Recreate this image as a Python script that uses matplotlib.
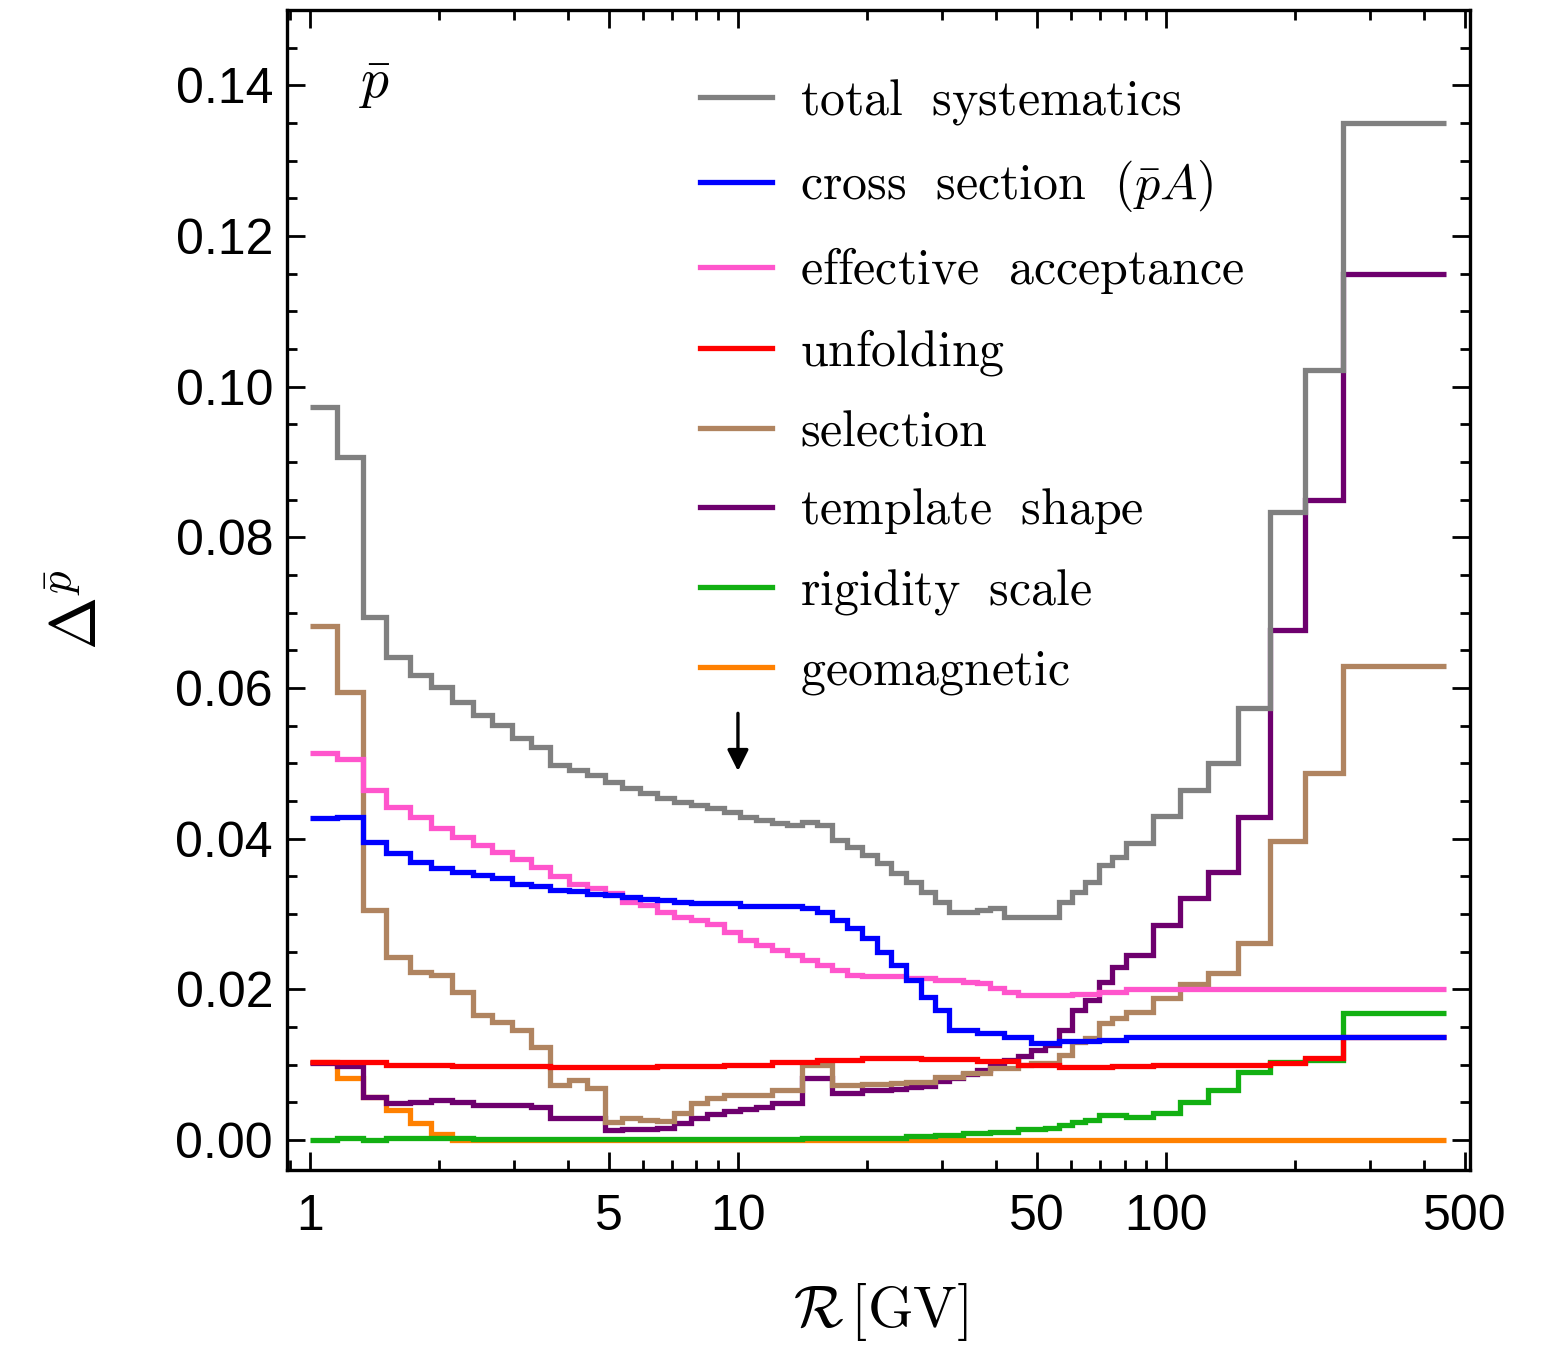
import numpy as np
import matplotlib
matplotlib.use("Agg")
import matplotlib.pyplot as plt
from matplotlib.lines import Line2D
from matplotlib.ticker import FixedLocator, NullFormatter, MultipleLocator, FormatStrFormatter

plt.rcParams['mathtext.fontset'] = 'cm'
plt.rcParams['font.family'] = ['Liberation Sans', 'DejaVu Sans']

# rigidity bin edges [GV]
edges = [1.00, 1.16, 1.33, 1.51, 1.71, 1.92, 2.15, 2.40, 2.67, 2.97, 3.29, 3.64,
         4.02, 4.43, 4.88, 5.37, 5.90, 6.47, 7.09, 7.76, 8.48, 9.26, 10.1, 11.0,
         12.0, 13.0, 14.1, 15.3, 16.6, 18.0, 19.5, 21.1, 22.8, 24.7, 26.7, 28.8,
         31.1, 33.5, 36.1, 38.9, 41.9, 45.1, 48.5, 52.2, 56.1, 60.3, 64.8, 69.7,
         74.9, 80.5, 93.0, 108, 125, 147, 175, 211, 259, 450]

total = [0.0973, 0.0906, 0.0694, 0.0641, 0.0617, 0.0601, 0.0581, 0.0564, 0.0551, 0.0533,
         0.0522, 0.0498, 0.0491, 0.0484, 0.0475, 0.0467, 0.0460, 0.0454, 0.0449, 0.0444,
         0.0440, 0.0435, 0.0429, 0.0425, 0.0421, 0.0418, 0.0422, 0.0418, 0.0398, 0.0389,
         0.0378, 0.0367, 0.0354, 0.0342, 0.0329, 0.0316, 0.0303, 0.0303, 0.0305, 0.0308,
         0.0296, 0.0296, 0.0296, 0.0296, 0.0316, 0.0329, 0.0342, 0.0365, 0.0376, 0.0394,
         0.0430, 0.0464, 0.0500, 0.0573, 0.0833, 0.1022, 0.1350]

cross_section = [0.0427, 0.0429, 0.0395, 0.0381, 0.0369, 0.0361, 0.0355, 0.0352, 0.0348, 0.0340,
                 0.0337, 0.0332, 0.0330, 0.0326, 0.0325, 0.0322, 0.0320, 0.0318, 0.0316, 0.0315,
                 0.0315, 0.0315, 0.0311, 0.0311, 0.0310, 0.0310, 0.0308, 0.0303, 0.0292, 0.0281,
                 0.0268, 0.0249, 0.0232, 0.0212, 0.0190, 0.0172, 0.0146, 0.0146, 0.0142, 0.0142,
                 0.0137, 0.0137, 0.0128, 0.0128, 0.0131, 0.0131, 0.0131, 0.0132, 0.0133, 0.0136,
                 0.0136, 0.0136, 0.0136, 0.0136, 0.0136, 0.0136, 0.0136]

acceptance = [0.0514, 0.0506, 0.0464, 0.0442, 0.0429, 0.0414, 0.0402, 0.0391, 0.0382, 0.0373,
              0.0362, 0.0350, 0.0340, 0.0334, 0.0328, 0.0316, 0.0312, 0.0303, 0.0296, 0.0292,
              0.0286, 0.0276, 0.0265, 0.0259, 0.0252, 0.0245, 0.0239, 0.0232, 0.0226, 0.0219,
              0.0218, 0.0218, 0.0218, 0.0215, 0.0215, 0.0212, 0.0212, 0.0210, 0.0208, 0.0202,
              0.0197, 0.0192, 0.0192, 0.0192, 0.0193, 0.0194, 0.0194, 0.0196, 0.0197, 0.0200,
              0.0200, 0.0200, 0.0200, 0.0200, 0.0200, 0.0200, 0.0200]

unfolding = [0.0103, 0.0103, 0.0103, 0.0100, 0.0100, 0.0100, 0.0098, 0.0098, 0.0098, 0.0098,
             0.0098, 0.0097, 0.0097, 0.0097, 0.0097, 0.0097, 0.0097, 0.0098, 0.0098, 0.0098,
             0.0098, 0.0100, 0.0100, 0.0100, 0.0103, 0.0103, 0.0103, 0.0106, 0.0106, 0.0106,
             0.0109, 0.0109, 0.0109, 0.0109, 0.0108, 0.0108, 0.0108, 0.0108, 0.0105, 0.0105,
             0.0105, 0.0100, 0.0100, 0.0100, 0.0097, 0.0097, 0.0097, 0.0097, 0.0098, 0.0098,
             0.0100, 0.0100, 0.0100, 0.0100, 0.0102, 0.0109, 0.0136]

selection = [0.0682, 0.0594, 0.0305, 0.0243, 0.0223, 0.0219, 0.0197, 0.0166, 0.0157, 0.0146,
             0.0123, 0.0073, 0.0080, 0.0069, 0.0024, 0.0029, 0.0026, 0.0025, 0.0036, 0.0049,
             0.0055, 0.0060, 0.0060, 0.0060, 0.0066, 0.0066, 0.0100, 0.0100, 0.0073, 0.0073,
             0.0074, 0.0074, 0.0075, 0.0077, 0.0077, 0.0084, 0.0084, 0.0089, 0.0089, 0.0096,
             0.0096, 0.0100, 0.0102, 0.0102, 0.0113, 0.0130, 0.0135, 0.0155, 0.0162, 0.0170,
             0.0188, 0.0207, 0.0222, 0.0261, 0.0397, 0.0487, 0.0629]

template = [0.0102, 0.0098, 0.0057, 0.0049, 0.0050, 0.0053, 0.0050, 0.0046, 0.0047, 0.0047,
            0.0044, 0.0029, 0.0029, 0.0029, 0.0013, 0.0015, 0.0015, 0.0016, 0.0022, 0.0029,
            0.0034, 0.0038, 0.0041, 0.0044, 0.0049, 0.0049, 0.0082, 0.0082, 0.0062, 0.0062,
            0.0066, 0.0066, 0.0068, 0.0070, 0.0072, 0.0078, 0.0082, 0.0088, 0.0093, 0.0100,
            0.0106, 0.0112, 0.0119, 0.0126, 0.0146, 0.0172, 0.0186, 0.0210, 0.0230, 0.0245,
            0.0285, 0.0321, 0.0356, 0.0429, 0.0677, 0.0849, 0.1150]

rigidity = [0.0000, 0.0003, 0.0000, 0.0003, 0.0003, 0.0003, 0.0002, 0.0001, 0.0001, 0.0001,
            0.0001, 0.0001, 0.0001, 0.0001, 0.0001, 0.0001, 0.0001, 0.0001, 0.0001, 0.0001,
            0.0001, 0.0001, 0.0001, 0.0001, 0.0001, 0.0001, 0.0002, 0.0002, 0.0002, 0.0002,
            0.0003, 0.0003, 0.0003, 0.0005, 0.0005, 0.0007, 0.0007, 0.0009, 0.0009, 0.0011,
            0.0011, 0.0014, 0.0014, 0.0016, 0.0020, 0.0024, 0.0027, 0.0033, 0.0033, 0.0030,
            0.0036, 0.0050, 0.0066, 0.0090, 0.0104, 0.0106, 0.0169]

geomagnetic = [0.0103, 0.0082, 0.0057, 0.0040, 0.0022, 0.0008, 0.0, 0.0, 0.0, 0.0,
               0.0, 0.0, 0.0, 0.0, 0.0, 0.0, 0.0, 0.0, 0.0, 0.0,
               0.0, 0.0, 0.0, 0.0, 0.0, 0.0, 0.0, 0.0, 0.0, 0.0,
               0.0, 0.0, 0.0, 0.0, 0.0, 0.0, 0.0, 0.0, 0.0, 0.0,
               0.0, 0.0, 0.0, 0.0, 0.0, 0.0, 0.0, 0.0, 0.0, 0.0,
               0.0, 0.0, 0.0, 0.0, 0.0, 0.0, 0.0]

c_total = '#808080'
c_cross = '#0000ff'
c_acc = '#ff55cc'
c_unf = '#ff0000'
c_sel = '#b08460'
c_tmpl = '#6e006e'
c_rig = '#12b012'
c_geo = '#ff8000'

fig = plt.figure(figsize=(15.68, 13.5), dpi=100)
ax = fig.add_axes([0.183, 0.1333, 0.7545, 0.8593])

lw = 3.8
# drawing order (bottom to top)
series = [
    (geomagnetic, c_geo),
    (rigidity, c_rig),
    (template, c_tmpl),
    (selection, c_sel),
    (unfolding, c_unf),
    (acceptance, c_acc),
    (cross_section, c_cross),
    (total, c_total),
]
for vals, col in series:
    ax.step(edges, list(vals) + [vals[-1]], where='post', color=col, lw=lw,
            solid_joinstyle='miter', solid_capstyle='butt')

ax.set_xscale('log')
ax.set_xlim(0.884, 513)
ax.set_ylim(-0.004, 0.15)

ax.xaxis.set_major_locator(FixedLocator([1, 5, 10, 50, 100, 500]))
ax.set_xticklabels(['1', '5', '10', '50', '100', '500'])
minor_x = [m * 10 ** d for d in range(-1, 3) for m in range(1, 10)]
ax.xaxis.set_minor_locator(FixedLocator(minor_x))
ax.xaxis.set_minor_formatter(NullFormatter())
ax.yaxis.set_major_locator(MultipleLocator(0.02))
ax.yaxis.set_minor_locator(MultipleLocator(0.005))
ax.yaxis.set_major_formatter(FormatStrFormatter('%.2f'))

ax.tick_params(which='both', direction='in', top=True, right=True, width=2)
ax.tick_params(which='major', length=13, labelsize=36)
ax.tick_params(which='minor', length=7)
ax.tick_params(axis='x', which='major', pad=17)
ax.tick_params(axis='y', which='major', pad=10)
for s in ax.spines.values():
    s.set_linewidth(2.4)

fig.text(80 / 1568, 1 - 610 / 1350, r'$\Delta^{\bar{p}}$', rotation=90,
         ha='center', va='center', fontsize=46)
fig.text(880 / 1568, 1 - 1312 / 1350, r'$\mathcal{R}\,[\mathrm{GV}]$',
         ha='center', va='center', fontsize=42)
ax.text(0.074, 0.935, r'$\bar{p}$', transform=ax.transAxes, ha='center',
        va='center', fontsize=40)

# arrow at 10 GV
ax.annotate('', xy=(10, 0.0486), xytext=(10, 0.0570),
            arrowprops=dict(arrowstyle='-|>', color='black', lw=2.4,
                            mutation_scale=32))

labels = [r'$\mathrm{total\ \ systematics}$',
          r'$\mathrm{cross\ \ section\ \ (}\bar{p}A\mathrm{)}$',
          r'$\mathrm{effective\ \ acceptance}$',
          r'$\mathrm{unfolding}$',
          r'$\mathrm{selection}$',
          r'$\mathrm{template\ \ shape}$',
          r'$\mathrm{rigidity\ \ scale}$',
          r'$\mathrm{geomagnetic}$']
colors = [c_total, c_cross, c_acc, c_unf, c_sel, c_tmpl, c_rig, c_geo]
handles = [Line2D([], [], color=c, lw=lw) for c in colors]
ax.legend(handles, labels, loc='upper left', bbox_to_anchor=(0.349, 0.942),
          frameon=False, fontsize=36, handlelength=1.45, handletextpad=0.55,
          labelspacing=0.62, borderpad=0, borderaxespad=0)

fig.savefig('out.png', dpi=100)
